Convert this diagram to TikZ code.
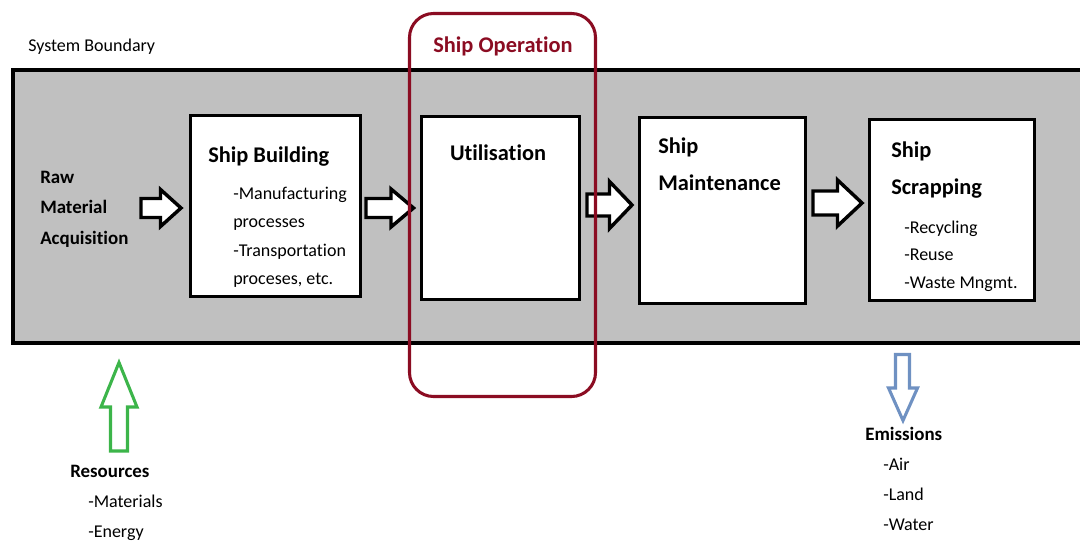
\documentclass[tikz,border=0pt]{standalone}
\usepackage{fontspec}
\setmainfont{Carlito}[Ligatures={NoCommon}]
\usetikzlibrary{fit}

\definecolor{bandgray}{HTML}{C0C0C0}
\definecolor{opred}{HTML}{8B0C22}
\definecolor{resgreen}{HTML}{3CB54A}
\definecolor{emblue}{HTML}{6F91C2}

% Hollow block arrow pointing right:
% #1 tail x, #2 head-base x, #3 tip x, #4 centre y, #5 shaft half-width, #6 head half-width
\newcommand{\fatright}[6]{%
  \draw[blockarrow] (#1,#4-#5) -- (#2,#4-#5) -- (#2,#4-#6) -- (#3,#4)
    -- (#2,#4+#6) -- (#2,#4+#5) -- (#1,#4+#5) -- cycle;}

\tikzset{
  procbox/.style={draw=black, line width=2.4pt, fill=white, inner sep=0pt},
  blockarrow/.style={draw=black, line width=2.6pt, fill=white, line join=miter},
  lbl/.style={anchor=base west, inner sep=0pt, font=\fontsize{13.5}{16}\selectfont},
  ttl/.style={anchor=base west, inner sep=0pt, font=\fontsize{16.8}{20}\selectfont\bfseries},
  sttl/.style={anchor=base west, inner sep=0pt, font=\fontsize{14.2}{17}\selectfont\bfseries},
}

\begin{document}
\begin{tikzpicture}[x=0.75pt, y=-0.75pt]
\useasboundingbox (0,0) rectangle (1080,540);

% system boundary band (open on the right)
\fill[bandgray] (12.5,70) rectangle (1090,343);
\draw[line width=3pt] (1090,70) -- (12.5,70) -- (12.5,343) -- (1090,343);

% process boxes
\node[procbox, fit={(190.5,115.5) (360.5,296.5)}] (sb) {};
\node[procbox, fit={(421.5,116.5) (579.5,299.5)}] (ut) {};
\node[procbox, fit={(639.5,117.5) (805.5,303.5)}] (sm) {};
\node[procbox, fit={(869.5,119.5) (1034.5,300.5)}] (ss) {};

% flow arrows between stages
\fatright{141}{160.5}{181}{208}{9.5}{18.5}
\fatright{366}{391}{413.5}{208}{9.5}{19}
\fatright{587}{609.5}{632}{205}{11}{23.5}
\fatright{813}{837.5}{862}{203}{12}{23}

% resources in, emissions out
\draw[resgreen, line width=2.3pt, line join=miter, fill=white]
  (119,362.5) -- (137,407) -- (127.5,407) -- (127.5,451) -- (110.5,451)
  -- (110.5,407) -- (101,407) -- cycle;
\draw[emblue, line width=2.3pt, line join=miter, fill=white]
  (895.5,354.5) -- (909.5,354.5) -- (909.5,388) -- (917.5,388) -- (903,420.5)
  -- (888.5,388) -- (895.5,388) -- cycle;

% ship operation frame
\draw[opred, line width=2.3pt, rounded corners=18pt] (409.5,13.5) rectangle (595.5,396.5);

% labels
\node[lbl] (sysb) at (28,51.5) {System Boundary};

\node[sttl] (raw1) at (40,183.5) {Raw};
\node[sttl] (raw2) at (40,213.5) {Material};
\node[sttl] (raw3) at (40,244.5) {Acquisition};

\node[ttl] (sbt) at (208,162) {Ship Building};
\node[lbl] (sb1) at (233,199) {-Manufacturing};
\node[lbl] (sb2) at (233,227.5) {processes};
\node[lbl] (sb3) at (233,256) {-Transportation};
\node[lbl] (sb4) at (233,284.5) {proceses, etc.};

\node[ttl, anchor=base, text=opred] (opt) at (503,52) {Ship Operation};
\node[ttl, anchor=base] (utt) at (498,160) {Utilisation};

\node[ttl] (smt1) at (658,153.5) {Ship};
\node[ttl] (smt2) at (658,190) {Maintenance};

\node[ttl] (sst1) at (891,157) {Ship};
\node[ttl] (sst2) at (891,194) {Scrapping};
\node[lbl] (ss1) at (904,233) {-Recycling};
\node[lbl] (ss2) at (904,260.5) {-Reuse};
\node[lbl] (ss3) at (904,288) {-Waste Mngmt.};

\node[sttl] (rest) at (70,477) {Resources};
\node[lbl] (res1) at (88,507) {-Materials};
\node[lbl] (res2) at (88,537) {-Energy};

\node[sttl] (emt) at (865,440) {Emissions};
\node[lbl] (em1) at (883,470) {-Air};
\node[lbl] (em2) at (883,500) {-Land};
\node[lbl] (em3) at (883,530) {-Water};
\end{tikzpicture}
\end{document}
